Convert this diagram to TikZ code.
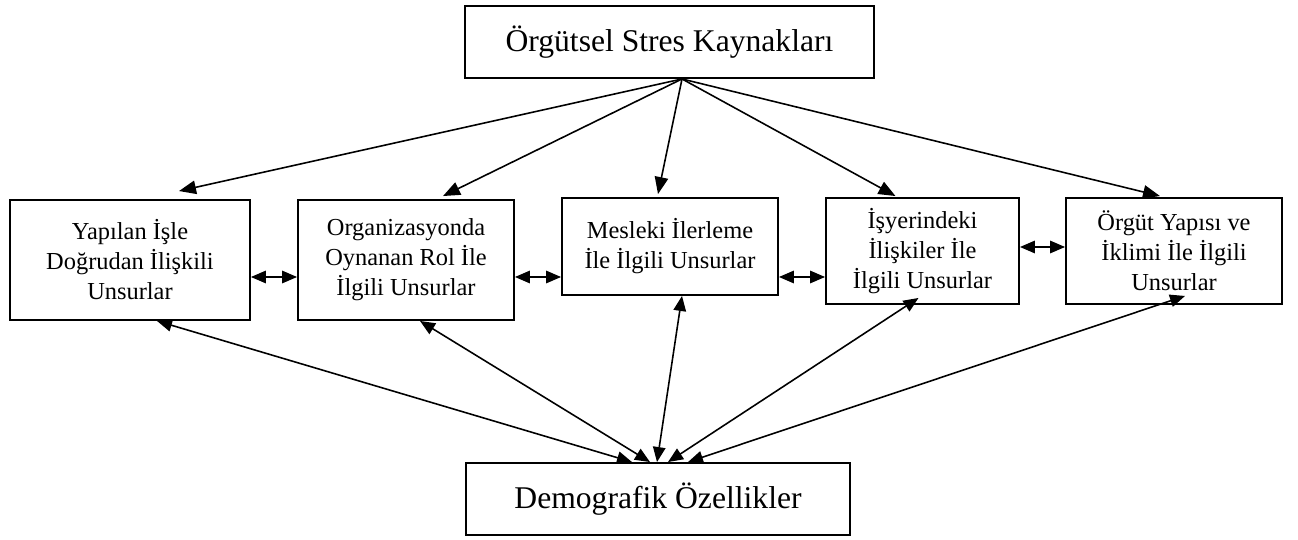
\documentclass[tikz,border=0pt]{standalone}
\usepackage{fontspec}
\setmainfont{Liberation Serif}
\usetikzlibrary{arrows.meta,calc}

\begin{document}
\begin{tikzpicture}[x=0.02cm, y=-0.02cm,
	box/.style={draw, line width=1.1pt, align=center, inner sep=0pt, font=\fontsize{13.9}{17.1}\selectfont},
	bigbox/.style={draw, line width=1.1pt, inner sep=0pt, font=\fontsize{18}{21}\selectfont},
	arr/.style={line width=0.9pt, -{Triangle[length=0.34cm, width=0.27cm]}},
	dbl/.style={line width=0.9pt, {Triangle[length=0.3cm, width=0.25cm]}-{Triangle[length=0.3cm, width=0.25cm]}}]
	\useasboundingbox (0, 0) rectangle (1298, 540);

	% boxes
	\node[bigbox, minimum width=8.18cm, minimum height=1.44cm] (top) at (669.5, 42) {Örgütsel Stres Kaynakları};
	\node[box, minimum width=4.8cm, minimum height=2.4cm] (b1) at (130, 260) {Yapılan İşle\\Doğrudan İlişkili\\Unsurlar};
	\node[box, minimum width=4.32cm, minimum height=2.4cm] (b2) at (406, 260) {Organizasyonda\\Oynanan Rol İle\\İlgili Unsurlar};
	\node[box, minimum width=4.32cm, minimum height=1.94cm] (b3) at (670, 246.5) {Mesleki İlerleme\\İle İlgili Unsurlar};
	\node[box, minimum width=3.86cm, minimum height=2.12cm] (b4) at (922.5, 251) {İşyerindeki\\İlişkiler İle\\İlgili Unsurlar};
	\node[box, minimum width=4.32cm, minimum height=2.12cm] (b5) at (1174, 251) {Örgüt Yapısı ve\\İklimi İle İlgili\\Unsurlar};
	\node[bigbox, minimum width=7.68cm, minimum height=1.44cm] (bot) at (658, 499) {Demografik Özellikler};

	% from the sources
	\coordinate (src) at ($(top.south)+(12.5, 0)$);
	\draw[arr] (src) -- ($(b1.north)+(49, -8)$);
	\draw[arr] (src) -- ($(b2.north)+(37, -3)$);
	\draw[arr] (src) -- ($(b3.north)+(-12, -3)$);
	\draw[arr] (src) -- ($(b4.north)+(-27, -1)$);
	\draw[arr] (src) -- ($(b5.north)+(-14, -1)$);

	% between the boxes
	\draw[dbl] ($(b1.east)+(0, 17)$) -- ($(b2.west)+(0, 17)$);
	\draw[dbl] ($(b2.east)+(0, 17)$) -- ($(b3.west)+(0, 30.5)$);
	\draw[dbl] ($(b3.east)+(0, 30.5)$) -- ($(b4.west)+(0, 26)$);
	\draw[dbl] ($(b4.east)+(0, -4)$) -- ($(b5.west)+(0, -4)$);

	% demographic
	\draw[dbl] ($(bot.north)+(-26, 0)$) -- ($(b1.south)+(27, 0)$);
	\draw[dbl] ($(bot.north)+(-8, 0)$) -- ($(b2.south)+(14, 0)$);
	\draw[dbl] ($(bot.north)+(-1, 0)$) -- ($(b3.south)+(12, 0)$);
	\draw[dbl] ($(bot.north)+(10, 0)$) -- ($(b4.south)+(-4, -7)$);
	\draw[dbl] ($(bot.north)+(30, 0)$) -- ($(b5.south)+(11, -9)$);
\end{tikzpicture}
\end{document}
